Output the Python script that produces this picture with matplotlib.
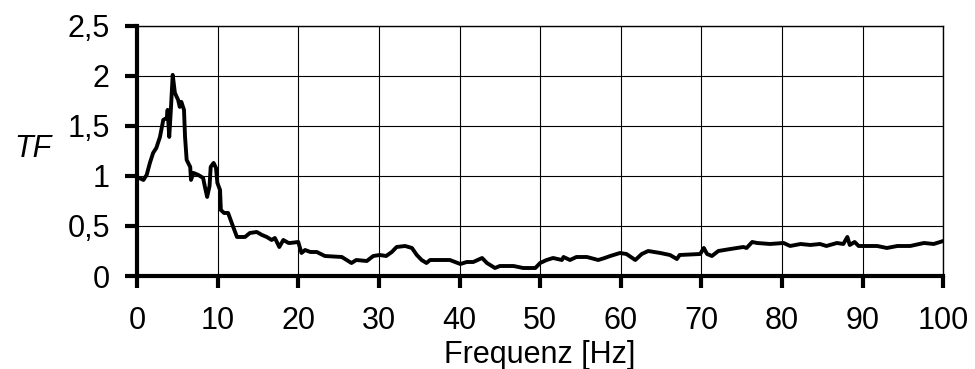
import matplotlib
matplotlib.use("Agg")
import matplotlib.pyplot as plt

plt.rcParams['font.family'] = ['Liberation Sans', 'DejaVu Sans']

# Transfer function over frequency
freq = [0, 0.8, 1.2, 1.6, 2.0, 2.4, 2.85, 3.26, 3.7, 3.8, 4.0, 4.2, 4.43, 4.7, 5.1, 5.3,
        5.5, 5.83, 5.96, 6.16, 6.6, 6.7, 7.0, 7.6, 8.2, 8.4, 8.7, 9.0, 9.14, 9.5, 9.8,
        9.97, 10.3, 10.4, 10.8, 11.3, 11.75, 12.4, 13.4, 14.0, 14.85, 15.5, 16.1, 16.7,
        17.1, 17.65, 18.15, 18.8, 19.0, 20.0, 20.4, 20.85, 21.5, 22.3, 23.3, 25.4, 26.6,
        27.2, 28.5, 29.3, 30.1, 30.9, 31.6, 32.2, 33.25, 34.1, 34.7, 35.3, 35.9, 36.35,
        38.8, 40.1, 40.9, 41.7, 42.8, 43.4, 44.4, 45.0, 46.7, 47.9, 49.4, 50.0, 50.8,
        51.6, 52.7, 52.9, 53.7, 54.5, 55.8, 57.2, 58.0, 58.7, 59.9, 60.7, 61.8, 62.6,
        63.4, 64.9, 66.1, 66.96, 67.3, 69.85, 70.3, 70.7, 71.3, 72.1, 73.6, 75.2, 75.6,
        76.3, 76.9, 78.5, 80.2, 81.0, 82.3, 83.5, 84.7, 85.5, 86.8, 87.6, 88.1, 88.4,
        89.0, 89.5, 90.5, 91.8, 93.0, 94.3, 95.9, 97.6, 98.8, 100]
tf = [0.99, 0.96, 1.01, 1.13, 1.23, 1.28, 1.39, 1.56, 1.58, 1.66, 1.39, 1.66, 2.01, 1.83,
      1.76, 1.69, 1.74, 1.66, 1.39, 1.16, 1.09, 0.96, 1.03, 1.01, 0.98, 0.90, 0.79, 0.90,
      1.09, 1.13, 1.08, 0.93, 0.86, 0.66, 0.63, 0.63, 0.53, 0.39, 0.39, 0.43, 0.44, 0.41,
      0.39, 0.36, 0.38, 0.29, 0.36, 0.33, 0.33, 0.34, 0.23, 0.26, 0.24, 0.24, 0.20, 0.19,
      0.13, 0.16, 0.15, 0.20, 0.21, 0.20, 0.24, 0.29, 0.30, 0.28, 0.21, 0.16, 0.13, 0.16,
      0.16, 0.12, 0.14, 0.14, 0.18, 0.13, 0.08, 0.10, 0.10, 0.08, 0.08, 0.13, 0.16, 0.18,
      0.16, 0.19, 0.16, 0.19, 0.19, 0.16, 0.18, 0.20, 0.23, 0.22, 0.16, 0.22, 0.25, 0.23,
      0.21, 0.17, 0.21, 0.22, 0.28, 0.22, 0.20, 0.25, 0.27, 0.29, 0.28, 0.34, 0.33, 0.32,
      0.33, 0.30, 0.32, 0.31, 0.32, 0.30, 0.33, 0.32, 0.39, 0.31, 0.34, 0.30, 0.30, 0.30,
      0.28, 0.30, 0.30, 0.33, 0.32, 0.35]

xticks = list(range(0, 101, 10))
yticks = [0, 0.5, 1, 1.5, 2, 2.5]
ytick_labels = ['0', '0,5', '1', '1,5', '2', '2,5']

fig = plt.figure(figsize=(9.75, 3.69), dpi=100)
ax = fig.add_axes([0.1405, 0.252, 0.827, 0.678])

ax.plot(freq, tf, color='black', lw=2.8, solid_joinstyle='round', zorder=3)

ax.set_xlim(0, 100)
ax.set_ylim(0, 2.5)
ax.set_xticks(xticks)
ax.set_yticks(yticks)
ax.set_yticklabels(ytick_labels)
ax.grid(True, color='black', lw=0.8)

for side in ['left', 'bottom']:
    ax.spines[side].set_linewidth(3.0)
    ax.spines[side].set_capstyle('projecting')
for side in ['top', 'right']:
    ax.spines[side].set_linewidth(1.0)
ax.tick_params(direction='out', length=8.6, width=3.0, labelsize=22)
ax.tick_params(axis='x', pad=13)
ax.tick_params(axis='y', pad=11)

fig.text(0.554, 0.017, 'Frequenz [Hz]', fontsize=22, ha='center', va='baseline')
fig.text(0.034, 0.597, 'TF', fontsize=22, style='italic', ha='center', va='center')

fig.savefig('out.png', dpi=100)
